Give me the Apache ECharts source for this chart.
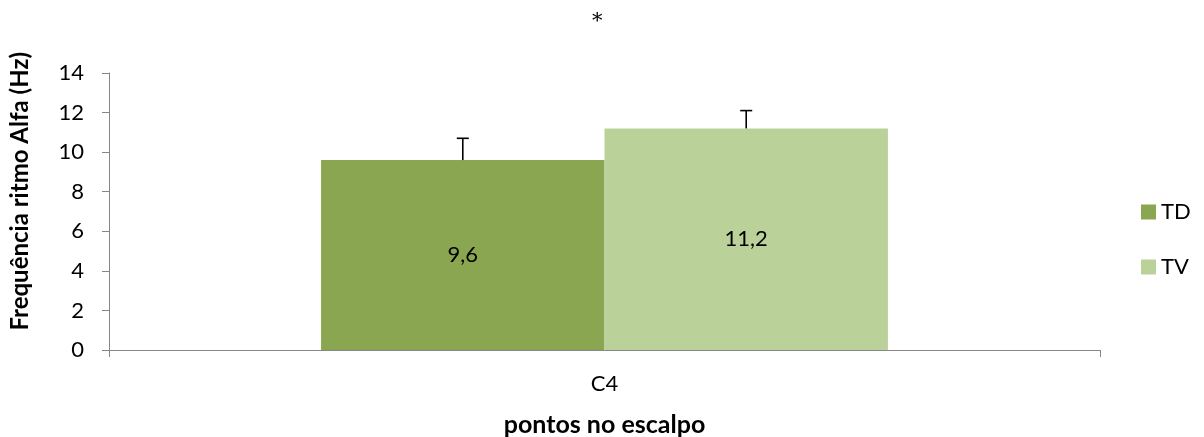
<!DOCTYPE html>
<html>
<head>
<meta charset="utf-8">
<script src="https://cdn.jsdelivr.net/npm/echarts@6/dist/echarts.min.js"></script>
<style>
  html, body { margin: 0; padding: 0; background: #fff; }
  #chart { width: 1204px; height: 437px; }
</style>
</head>
<body>
<div id="chart"></div>
<script>
var categories = ['C4'];
var seriesNames = ['TD', 'TV'];
var tdValues = [9.6];
var tvValues = [11.2];
var tdErrors = [1.1];
var tvErrors = [0.9];
var yTicks = [0, 2, 4, 6, 8, 10, 12, 14];

var font = 'Lato, "Open Sans", sans-serif';
var colors = ['#8ba650', '#bbd19a'];
var catGap = 0.428;

var myChart = echarts.init(document.getElementById('chart'));

// barras de erro (só para cima), desenhadas sobre as barras
var errorSeries = function (values, errors, index) {
    return {
        type: 'custom',
        name: seriesNames[index] + '-err',
        z: 10,
        silent: true,
        renderItem: function (params, api) {
            var catIdx = api.value(0);
            var top = api.coord([catIdx, api.value(1) + api.value(2)]);
            var base = api.coord([catIdx, api.value(1)]);
            var band = api.size([1, 0])[0];
            var barW = band * (1 - catGap) / 2;
            var x = base[0] + (index - 0.5) * barW;
            return {
                type: 'group',
                children: [
                    { type: 'line', shape: { x1: x, y1: base[1], x2: x, y2: top[1] }, style: { stroke: '#000', lineWidth: 1.6 } },
                    { type: 'line', shape: { x1: x - 6, y1: top[1], x2: x + 6, y2: top[1] }, style: { stroke: '#000', lineWidth: 1.6 } }
                ]
            };
        },
        data: categories.map(function (c, i) { return [i, values[i], errors[i]]; })
    };
};

var labelFmt = function (p) { return String(p.value).replace('.', ','); };

var option = {
    animation: false,
    title: {
        text: '*',
        left: 587,
        top: 6,
        textStyle: { fontFamily: 'DejaVu Serif, serif', fontSize: 21, fontWeight: 'normal', color: '#000' }
    },
    legend: {
        data: seriesNames,
        orient: 'vertical',
        left: 1136,
        top: 196,
        itemWidth: 15,
        itemHeight: 15,
        itemGap: 33,
        icon: 'rect',
        textStyle: { fontFamily: font, fontSize: 22, lineHeight: 15, color: '#000' }
    },
    grid: { left: 109, right: 104, top: 73, bottom: 87, outerBoundsMode: 'none', containLabel: false },
    xAxis: {
        type: 'category',
        data: categories,
        axisLine: { lineStyle: { color: '#868686', width: 1 } },
        axisTick: { show: true, length: 7, lineStyle: { color: '#868686' } },
        axisLabel: { fontFamily: font, fontSize: 22, color: '#000', margin: 23 },
        name: 'pontos no escalpo',
        nameLocation: 'middle',
        nameGap: 62,
        nameTextStyle: { fontFamily: font, fontSize: 25, fontWeight: 'bold', color: '#000' }
    },
    yAxis: {
        type: 'value',
        min: yTicks[0],
        max: yTicks[yTicks.length - 1],
        interval: 2,
        splitLine: { show: false },
        axisLine: { show: true, lineStyle: { color: '#868686', width: 1 } },
        axisTick: { show: true, length: 7, lineStyle: { color: '#868686' } },
        axisLabel: { fontFamily: font, fontSize: 22, color: '#000', margin: 25 }
    },
    graphic: [{
        type: 'text',
        left: 8,
        top: 52,
        rotation: Math.PI / 2,
        style: {
            text: 'Frequência ritmo Alfa (Hz)',
            fontFamily: font,
            fontSize: 24,
            fontWeight: 'bold',
            fill: '#000'
        }
    }],
    series: [
        {
            name: 'TD',
            type: 'bar',
            data: tdValues,
            barGap: '0%',
            barCategoryGap: (catGap * 100) + '%',
            itemStyle: { color: colors[0] },
            label: { show: true, position: 'inside', color: '#000', fontFamily: font, fontSize: 22, formatter: labelFmt }
        },
        {
            name: 'TV',
            type: 'bar',
            data: tvValues,
            itemStyle: { color: colors[1] },
            label: { show: true, position: 'inside', color: '#000', fontFamily: font, fontSize: 22, formatter: labelFmt }
        },
        errorSeries(tdValues, tdErrors, 0),
        errorSeries(tvValues, tvErrors, 1)
    ]
};

myChart.setOption(option);
</script>
</body>
</html>
